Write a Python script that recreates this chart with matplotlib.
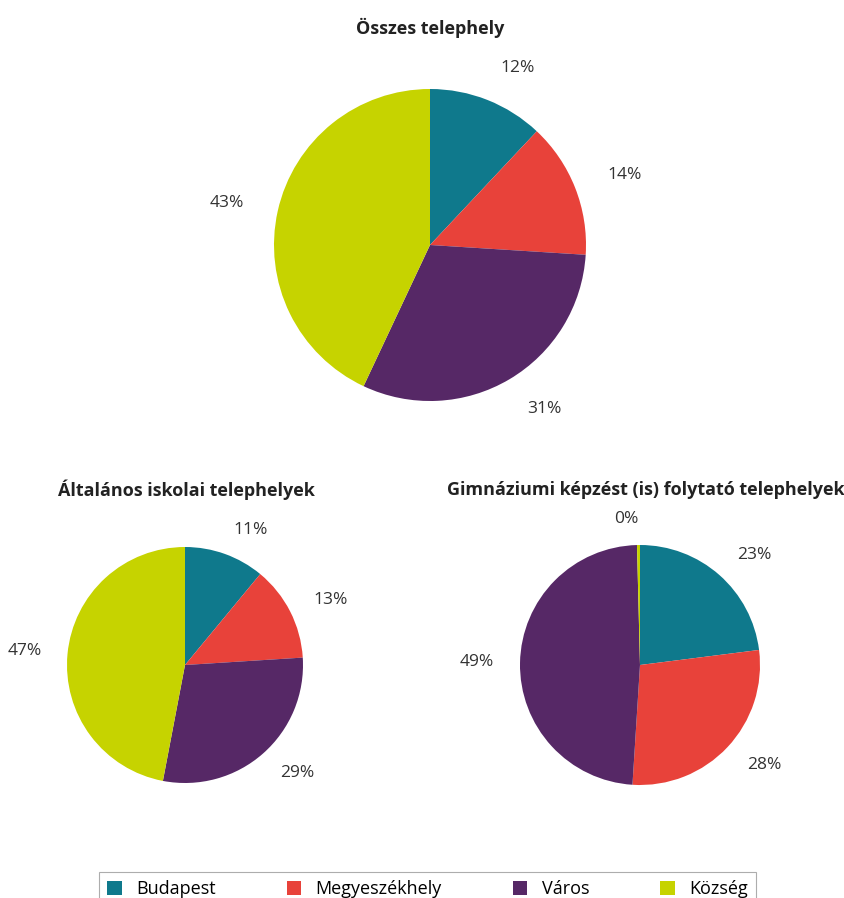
import matplotlib
matplotlib.use("Agg")
import matplotlib.pyplot as plt
from matplotlib.patches import Patch

# data
categories = ["Budapest", "Megyeszékhely", "Város", "Község"]
colors = ["#0F798C", "#E8423A", "#562866", "#C6D300"]

osszes = [12, 14, 31, 43]
altalanos = [11, 13, 29, 47]
gimnazium = [23, 28, 48.6, 0.4]

titles = ["Összes telephely",
          "Általános iskolai telephelyek",
          "Gimnáziumi képzést (is) folytató telephelyek"]

plt.rcParams["font.family"] = ["Open Sans", "DejaVu Sans"]

W, H = 845, 898
fig = plt.figure(figsize=(W / 100, H / 100), dpi=100)


def pie_axes(cx, cy, r):
    # pixel centre/radius -> figure fraction axes
    return fig.add_axes([(cx - r) / W, (H - cy - r) / H, 2 * r / W, 2 * r / H])


def draw_pie(ax, values):
    labels = [f"{v:.0f}%" for v in values]
    ax.pie(values, colors=colors, startangle=90, counterclock=False,
           labels=labels, labeldistance=1.22,
           wedgeprops=dict(linewidth=0),
           textprops=dict(fontsize=12.5, color="#333333"))
    ax.set_xlim(-1, 1)
    ax.set_ylim(-1, 1)
    ax.set_aspect("equal")
    ax.axis("off")


ax1 = pie_axes(430, 245, 156)
draw_pie(ax1, osszes)
ax2 = pie_axes(185, 665, 118)
draw_pie(ax2, altalanos)
ax3 = pie_axes(640, 665, 120)
draw_pie(ax3, gimnazium)

# titles
fig.text(430 / W, 1 - 28 / H, titles[0], ha="center", va="center",
         fontsize=13, fontweight="bold", color="#222222")
fig.text(186 / W, 1 - 490 / H, titles[1], ha="center", va="center",
         fontsize=13, fontweight="bold", color="#222222")
fig.text(447 / W, 1 - 490 / H, titles[2], ha="left", va="center",
         fontsize=13, fontweight="bold", color="#222222")

# legend
handles = [Patch(facecolor=c, edgecolor="none") for c in colors]
leg = fig.legend(handles, categories, ncol=4, mode="expand",
                 loc="upper left",
                 bbox_to_anchor=(90 / W, 1 - 863 / H, 675 / W, 0.0),
                 fontsize=13, frameon=True, fancybox=False,
                 handlelength=0.8, handleheight=0.8, borderpad=0.45)
leg.get_frame().set_edgecolor("#999999")
leg.get_frame().set_linewidth(0.8)

fig.savefig("out.png", dpi=100)
